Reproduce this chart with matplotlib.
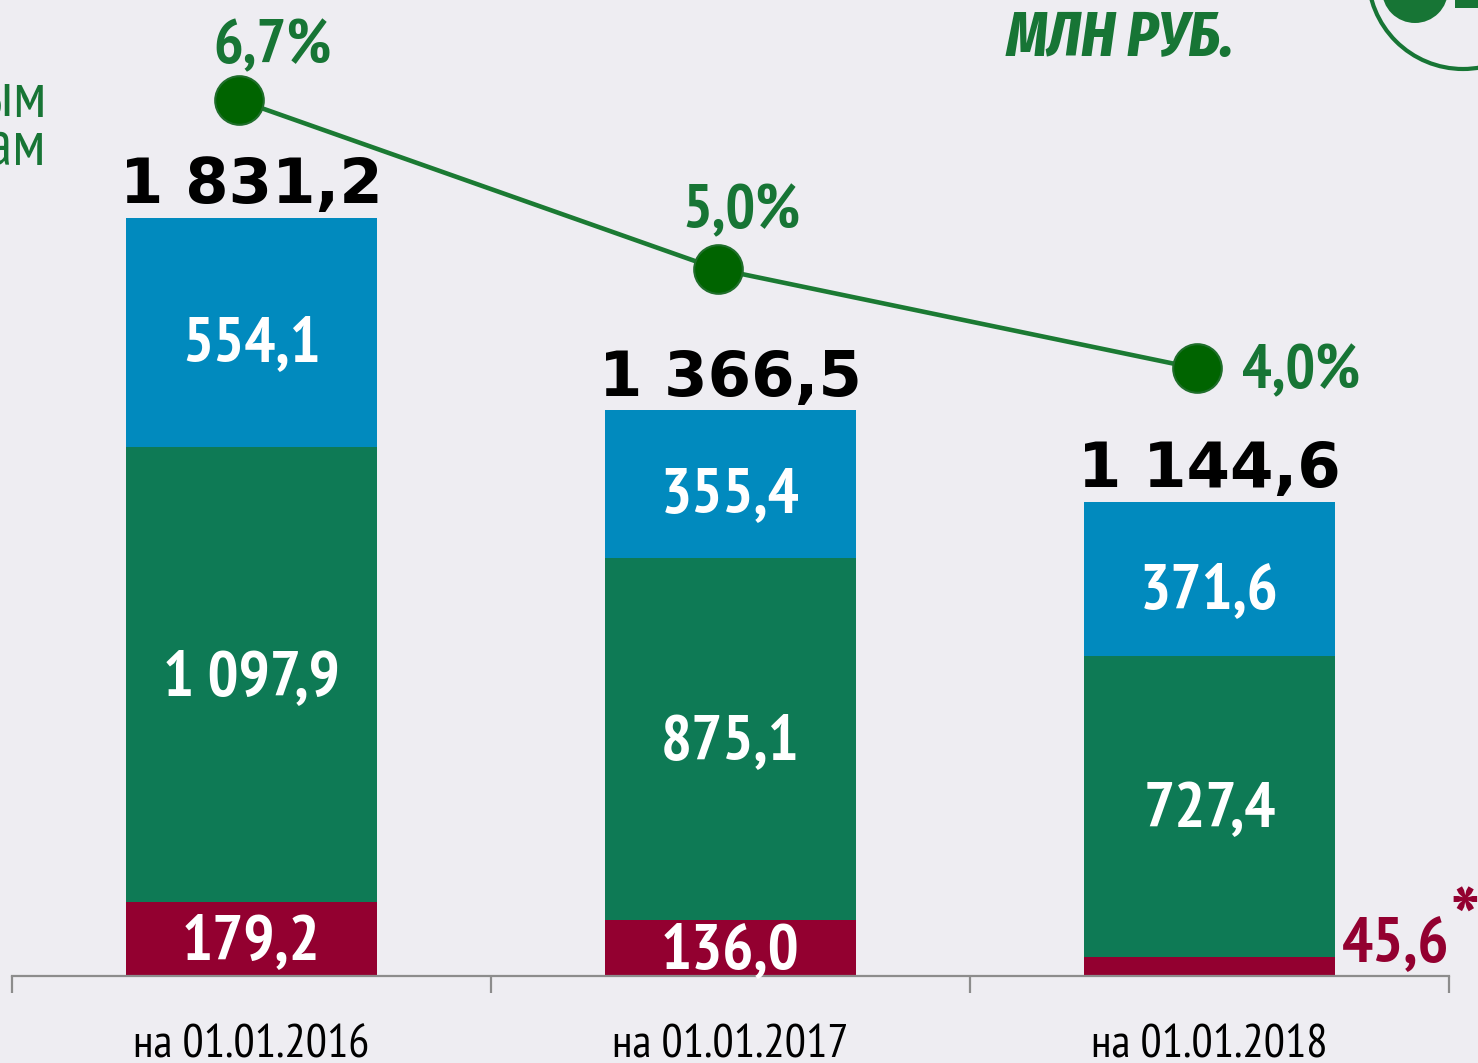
import matplotlib
matplotlib.use("Agg")
import matplotlib.pyplot as plt
from matplotlib.patches import Ellipse, Rectangle
import numpy as np

# Data (млн руб.)
dates = ["на 01.01.2016", "на 01.01.2017", "на 01.01.2018"]
overdue = [179.2, 136.0, 45.6]
middle = [1097.9, 875.1, 727.4]
upper = [554.1, 355.4, 371.6]
totals = ["1 831,2", "1 366,5", "1 144,6"]
share_pct = [6.7, 5.0, 4.0]
share_labels = ["6,7%", "5,0%", "4,0%"]

BG = "#eeedf2"
RED = "#930030"
GREEN = "#0e7a55"
BLUE = "#018abe"
LINE_GREEN = "#1b7a33"
DOT_GREEN = "#006400"
TEXT_GREEN = "#177535"

NARROW = ["PT Sans Narrow", "IBM Plex Sans Condensed", "DejaVu Sans"]
COND_IT = ["Fira Sans Extra Condensed", "Roboto Condensed",
           "IBM Plex Sans Condensed", "DejaVu Sans"]

W, H = 1478, 1063
PX_PER_UNIT = 0.4139   # bar scale, px per млн руб.
PX_PER_PCT = 99.41     # line scale, px per percent

fig = plt.figure(figsize=(W / 100, H / 100), dpi=100, facecolor=BG)


def fx(px):
    return px / W


def fy(py):
    return 1 - py / H


# main axes: baseline at y=976 px, categories span 12..1449 px
ax = fig.add_axes([fx(12), fy(976), fx(1449) - fx(12), fy(0) - fy(976)])
ax.set_facecolor(BG)
x = np.arange(len(dates))
bw = 0.526

ax.bar(x, overdue, bw, color=RED, zorder=2)
ax.bar(x, middle, bw, bottom=overdue, color=GREEN, zorder=2)
bottom3 = np.array(overdue) + np.array(middle)
ax.bar(x, upper, bw, bottom=bottom3, color=BLUE, zorder=2)

ax.set_xlim(-0.5, 2.5)
ax.set_ylim(0, 976 / PX_PER_UNIT)

for s in ["top", "right", "left"]:
    ax.spines[s].set_visible(False)
ax.spines["bottom"].set_color("#8c8c8c")
ax.spines["bottom"].set_linewidth(1.6)
ax.set_yticks([])
ax.set_xticks([-0.5, 0.5, 1.5, 2.5])
ax.set_xticklabels([])
ax.tick_params(axis="x", length=12, width=1.6, color="#8c8c8c", direction="out")

for i, d in enumerate(dates):
    ax.text(i, -196, d, ha="center", va="baseline", fontsize=34,
            family=NARROW, color="black", clip_on=False)


def fmt(v):
    return f"{v:,.1f}".replace(",", " ").replace(".", ",")


seg_kw = dict(ha="center", va="center", fontsize=47, fontweight="bold",
              family=NARROW, color="white", zorder=3)

# segment labels
for i in range(len(dates)):
    if overdue[i] > 100:
        ax.text(i, overdue[i] / 2 - 10, fmt(overdue[i]), **seg_kw)
    else:
        ax.text(2.277, 34, fmt(overdue[i]), ha="left", va="baseline",
                fontsize=47, fontweight="bold", family=NARROW, color=RED,
                zorder=3, clip_on=False)
        ax.text(2.503, 212, "*", ha="left", va="top", fontsize=64,
                fontweight="bold", family=NARROW, color=RED, zorder=3,
                clip_on=False)
    ax.text(i, overdue[i] + middle[i] / 2 - 10, fmt(middle[i]), **seg_kw)
    ax.text(i, bottom3[i] + upper[i] / 2 - 30, fmt(upper[i]), **seg_kw)
    ax.text(i, bottom3[i] + upper[i] + 36, totals[i], ha="center",
            va="baseline", fontsize=45, fontweight="bold",
            family="DejaVu Sans", color="black", zorder=3)

# share line on its own scale
ax2 = ax.twinx()
ax2.set_ylim(6.7 - (976 - 100) / PX_PER_PCT, 6.7 + 100 / PX_PER_PCT)
ax2.axis("off")
xs = x - 0.027
ax2.plot(xs, share_pct, color=LINE_GREEN, lw=3.3, zorder=4)
ax2.plot(xs, share_pct, "o", ms=35, mfc=DOT_GREEN, mec="#1f6e2b",
         mew=1.5, zorder=5)
ax2.text(0.043, share_pct[0] + 0.37, share_labels[0], ha="center",
         va="baseline", fontsize=45, fontweight="bold", family=NARROW,
         color=TEXT_GREEN)
ax2.text(1.024, share_pct[1] + 0.41, share_labels[1], ha="center",
         va="baseline", fontsize=45, fontweight="bold", family=NARROW,
         color=TEXT_GREEN)
ax2.text(2.068, share_pct[2] - 0.2, share_labels[2], ha="left",
         va="baseline", fontsize=45, fontweight="bold", family=NARROW,
         color=TEXT_GREEN)

# unit caption and side caption
fig.text(fx(1120), fy(56), "МЛН РУБ.", ha="center", va="baseline",
         fontsize=46, fontweight="bold", fontstyle="italic", family=COND_IT,
         color=TEXT_GREEN)
fig.text(fx(46), fy(117), "по просроченным", ha="right", va="baseline",
         fontsize=46, family=NARROW, color=TEXT_GREEN)
fig.text(fx(46), fy(165), "кредитам", ha="right", va="baseline",
         fontsize=46, family=NARROW, color=TEXT_GREEN)

# logo fragment in the corner
r = 95
fig.patches.append(Ellipse((fx(1463), fy(-26)), 2 * r / W, 2 * r / H,
                           transform=fig.transFigure, fill=False,
                           ec=TEXT_GREEN, lw=3))
r2 = 33
fig.patches.append(Ellipse((fx(1415), fy(-10)), 2 * r2 / W, 2 * r2 / H,
                           transform=fig.transFigure, fc=TEXT_GREEN,
                           ec="none"))
fig.patches.append(Rectangle((fx(1455), fy(8)), 30 / W, 8 / H,
                             transform=fig.transFigure, fc=TEXT_GREEN,
                             ec="none"))

fig.savefig("out.png", dpi=100, facecolor=BG)
